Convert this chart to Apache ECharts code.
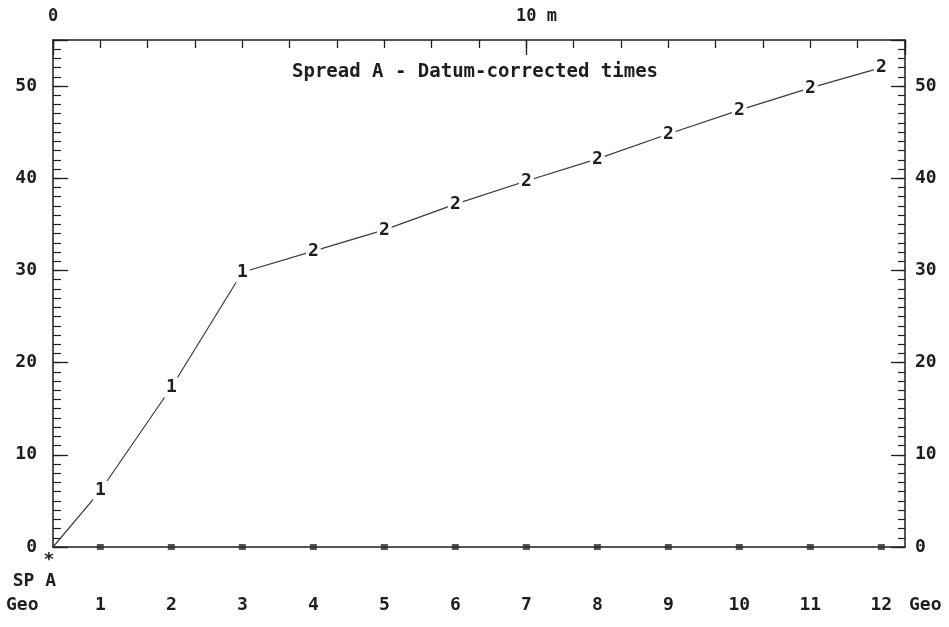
<!DOCTYPE html>
<html><head><meta charset="utf-8">
<script src="https://cdn.jsdelivr.net/npm/echarts@6/dist/echarts.min.js"></script>
<style>html,body{margin:0;padding:0;background:#fff}#c{width:949px;height:627px}</style>
</head><body><div id="c"></div>
<script>
// ---- data ----
const geoNumbers   = [1, 2, 3, 4, 5, 6, 7, 8, 9, 10, 11, 12];
const geoPositions = [1, 2.5, 4, 5.5, 7, 8.5, 10, 11.5, 13, 14.5, 16, 17.5]; // metres from SP A
const shotPoint    = [0, 0];
const times        = [6.1, 17.3, 29.8, 32.1, 34.4, 37.2, 39.7, 42.1, 44.8, 47.4, 49.8, 52.0];
const layers       = [1, 1, 1, 2, 2, 2, 2, 2, 2, 2, 2, 2];
const datumMarks   = [0, 0, 0, 0, 0, 0, 0, 0, 0, 0, 0, 0];
const topTickLabels = {0: '0', 10: '  10 m'};
const titleText = 'Spread A - Datum-corrected times';
const spLabel = 'SP A';
const geoLabel = 'Geo';

const FONT = 'DejaVu Sans Mono';
const INK = '#1e1e1e';
const WEIGHT = 'bold';
const axisLineStyle = {color: INK, width: 1.5};

const chart = echarts.init(document.getElementById('c'), null, {renderer: 'canvas'});

const lineData = [shotPoint.slice()].concat(geoPositions.map((x, i) => ({
  value: [x, times[i]],
  label: {show: true, formatter: String(layers[i])}
})));

const yLabelFmt = v => (Math.round(v) % 10 === 0 && v <= 50) ? String(v) : '';

const option = {
  backgroundColor: '#fff',
  animation: false,
  title: {
    text: titleText, left: 287, top: 58,
    textStyle: {fontFamily: FONT, fontSize: 19, fontWeight: WEIGHT, color: INK}
  },
  grid: {left: 53, right: 44, top: 40, bottom: 80, containLabel: false},
  xAxis: [
    {type: 'value', position: 'bottom', min: 0, max: 18, interval: 0.5,
     axisLine: {show: true, onZero: false, lineStyle: axisLineStyle},
     axisTick: {show: false}, splitLine: {show: false},
     axisLabel: {margin: 49, fontFamily: FONT, fontSize: 18, fontWeight: WEIGHT, color: INK,
       formatter: v => { const i = geoPositions.indexOf(v); return i >= 0 ? String(geoNumbers[i]) : ''; }}},
    {type: 'value', position: 'top', min: 0, max: 18, interval: 1,
     axisLine: {show: true, onZero: false, lineStyle: axisLineStyle},
     axisTick: {show: true, inside: true, length: 8, lineStyle: {color: INK, width: 1.3}},
     splitLine: {show: false},
     axisLabel: {margin: 15, fontFamily: FONT, fontSize: 17, fontWeight: WEIGHT, color: INK,
       formatter: v => topTickLabels[v] || ''}},
    {type: 'value', position: 'top', min: 0, max: 18, interval: 10,
     axisLine: {show: false, onZero: false},
     axisTick: {show: true, inside: true, length: 15, lineStyle: {color: INK, width: 1.3}},
     splitLine: {show: false}, axisLabel: {show: false}}
  ],
  yAxis: [
    {type: 'value', position: 'left', min: 0, max: 55, interval: 10,
     axisLine: {show: true, onZero: false, lineStyle: axisLineStyle},
     axisTick: {show: true, inside: true, length: 15, lineStyle: {color: INK, width: 1.3}},
     splitLine: {show: false},
     axisLabel: {margin: 16, fontFamily: FONT, fontSize: 18, fontWeight: WEIGHT, color: INK, formatter: yLabelFmt}},
    {type: 'value', position: 'left', min: 0, max: 55, interval: 1,
     axisLine: {show: false, onZero: false},
     axisTick: {show: true, inside: true, length: 8, lineStyle: {color: INK, width: 1.2}},
     splitLine: {show: false}, axisLabel: {show: false}},
    {type: 'value', position: 'right', min: 0, max: 55, interval: 10,
     axisLine: {show: true, onZero: false, lineStyle: axisLineStyle},
     axisTick: {show: true, inside: true, length: 14, lineStyle: {color: INK, width: 1.3}},
     splitLine: {show: false},
     axisLabel: {margin: 10, fontFamily: FONT, fontSize: 18, fontWeight: WEIGHT, color: INK, formatter: yLabelFmt}},
    {type: 'value', position: 'right', min: 0, max: 55, interval: 1,
     axisLine: {show: false, onZero: false},
     axisTick: {show: true, inside: true, length: 7, lineStyle: {color: INK, width: 1.2}},
     splitLine: {show: false}, axisLabel: {show: false}}
  ],
  series: [
    {type: 'line', xAxisIndex: 0, yAxisIndex: 0, data: lineData,
     symbol: 'circle', symbolSize: 1, itemStyle: {color: 'rgba(0,0,0,0)'},
     lineStyle: {color: '#3a3a3a', width: 1.2},
     label: {show: false, position: 'inside', fontFamily: FONT, fontSize: 18, fontWeight: WEIGHT, color: INK,
       backgroundColor: '#fff', padding: [1, 2]},
     z: 3},
    {type: 'scatter', xAxisIndex: 0, yAxisIndex: 0,
     data: geoPositions.map((x, i) => [x, datumMarks[i]]),
     symbol: 'rect', symbolSize: [7, 6], itemStyle: {color: '#2a2a2a'}, z: 4}
  ]
};
chart.setOption(option);

const p0 = chart.convertToPixel({xAxisIndex: 0, yAxisIndex: 0}, [0, 0]);
const pEnd = chart.convertToPixel({xAxisIndex: 0, yAxisIndex: 0}, [18, 0]);
const tStyle = {fontFamily: FONT, fontSize: 18, fontWeight: WEIGHT, fill: INK};
chart.setOption({
  graphic: [
    {type: 'text', x: p0[0] - 4, y: p0[1] + 13,
     style: Object.assign({text: '*', align: 'center', verticalAlign: 'middle'}, tStyle)},
    {type: 'text', x: p0[0] + 3, y: p0[1] + 34,
     style: Object.assign({text: spLabel, align: 'right', verticalAlign: 'middle'}, tStyle)},
    {type: 'text', x: 6, y: p0[1] + 58,
     style: Object.assign({text: geoLabel, align: 'left', verticalAlign: 'middle'}, tStyle)},
    {type: 'text', x: pEnd[0] + 4, y: pEnd[1] + 58,
     style: Object.assign({text: geoLabel, align: 'left', verticalAlign: 'middle'}, tStyle)}
  ]
});
</script></body></html>
